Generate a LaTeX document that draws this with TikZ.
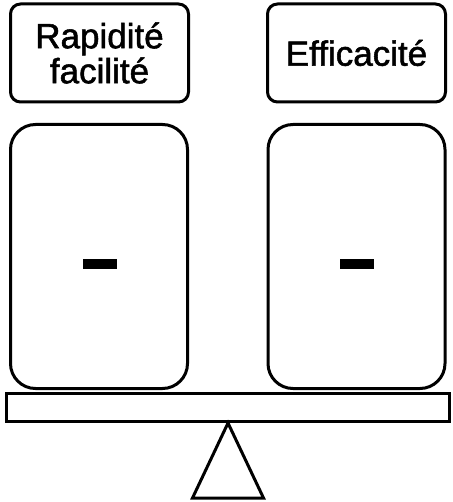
\documentclass[tikz,border=0pt]{standalone}
\usepackage{fontspec}
\setmainfont{Liberation Sans}
\newfontfamily\labelfont[FakeBold=1.5]{Liberation Sans}
\usetikzlibrary{shapes,calc}

\begin{document}
\begin{tikzpicture}[x=1pt,y=-1pt,line width=3pt,
  labelstyle/.style={rectangle,draw,fill=white,rounded corners=10pt,minimum width=178pt,minimum height=98pt,align=center,inner sep=0pt,font=\labelfont\fontsize{35}{35}\selectfont},
  panstyle/.style={rectangle,draw,fill=white,rounded corners=25pt,minimum width=177pt,minimum height=264pt,inner sep=0pt},
  minusstyle/.style={rectangle,fill=black,minimum width=34pt,minimum height=10pt,inner sep=0pt}]
  \useasboundingbox (0,0) rectangle (452,502);

  % labels on top
  \node [labelstyle] (rapid) at (99.5, 53) {Rapidité\\facilité};
  \node [labelstyle] (effic) at (356.5, 53) {Efficacité};

  % the two pans
  \node [panstyle] (panL) at (99, 256.5) {};
  \node [panstyle] (panR) at (356.5, 256.5) {};
  \node [minusstyle] (minusL) at (100, 264) {};
  \node [minusstyle] (minusR) at (357, 264) {};

  % beam and pivot
  \node [rectangle,draw,minimum width=443pt,minimum height=28pt,inner sep=0pt] (beam) at (228, 407.5) {};
  \draw [line join=miter] (beam.south) -- ++(-35.5, 75) -- ++(71, 0) -- cycle;

\end{tikzpicture}
\end{document}
